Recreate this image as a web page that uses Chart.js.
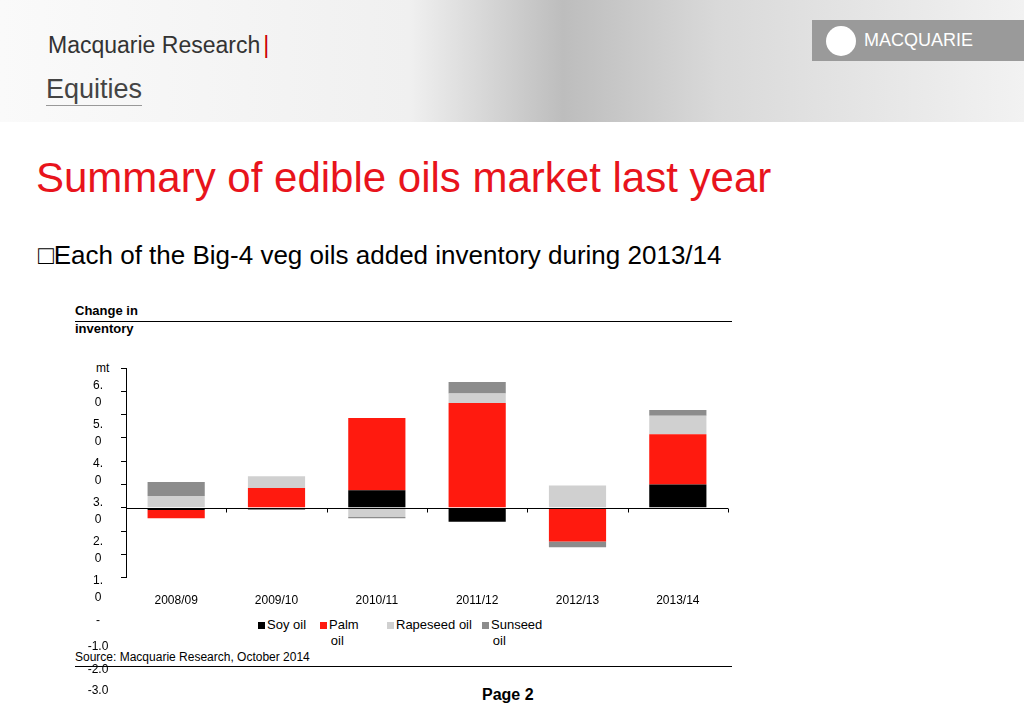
<!DOCTYPE html>
<html>
<head>
<meta charset="utf-8">
<script src="https://cdn.jsdelivr.net/npm/chart.js@4"></script>
<style>
  body { margin: 0; width: 1024px; height: 708px; position: relative; background: #fff; font-family: "Liberation Sans", Arial, sans-serif; overflow: hidden; }
  .abs { position: absolute; }
  .header { left: 0; top: 0; width: 1024px; height: 122px; background: linear-gradient(90deg, #fafafa 0%, #f0f0f0 40%, #bdbdbd 55%, #d9d9d9 70%, #f2f2f2 100%); }
  .ylab { position: absolute; font-size: 12px; color: #000; width: 40px; text-align: center; line-height: 17px; }
  .leg { position: absolute; font-size: 13px; line-height: 16px; }
  .sw { display: inline-block; width: 7px; height: 7px; margin-right: 2px; }
</style>
</head>
<body>
<div class="abs header"></div>
<div class="abs" style="left:48px;top:32px;font-size:23px;color:#333;">Macquarie Research<span style="color:#c00;margin-left:3px;">|</span></div>
<div class="abs" style="left:46px;top:74px;font-size:27px;color:#444;border-bottom:1px solid #999;">Equities</div>
<div class="abs" style="left:812px;top:20px;width:212px;height:41px;background:#9a9a9a;color:#fff;font-size:18px;line-height:41px;">
  <span style="display:inline-block;width:30px;height:30px;border-radius:50%;background:#fff;vertical-align:middle;margin:0 8px 0 14px;"></span>MACQUARIE</div>
<div class="abs" style="left:36px;top:154px;font-size:42px;color:#e8141c;">Summary of edible oils market last year</div>
<div class="abs" style="left:38px;top:240px;font-size:26px;color:#000;">&#9633;Each of the Big-4 veg oils added inventory during 2013/14</div>
<div class="abs" style="left:75px;top:302px;font-size:13px;font-weight:bold;line-height:18px;">Change in<br>inventory</div>
<div class="abs" style="left:75px;top:321px;width:657px;border-top:1px solid #000;"></div>
<div class="abs" style="left:96px;top:361px;font-size:12px;">mt</div>

<canvas id="grafico" class="abs" width="660" height="276" style="left:76px;top:340px;"></canvas>

<div class="abs" style="left:75px;top:650px;font-size:12px;">Source: Macquarie Research, October 2014</div>
<div class="abs" style="left:75px;top:666px;width:657px;border-top:1px solid #000;"></div>
<div class="abs" style="left:482px;top:686px;font-size:16px;font-weight:bold;">Page 2</div>

<div class="leg" style="left:258px;top:617px;"><span class="sw" style="background:#000"></span>Soy oil</div>
<div class="leg" style="left:320px;top:617px;"><span class="sw" style="background:#ff1a0f"></span>Palm<br>&nbsp;&nbsp;&nbsp;oil</div>
<div class="leg" style="left:387px;top:617px;"><span class="sw" style="background:#d0d0d0"></span>Rapeseed oil</div>
<div class="leg" style="left:482px;top:617px;"><span class="sw" style="background:#8c8c8c"></span>Sunseed<br>&nbsp;&nbsp;&nbsp;oil</div>

<script>
const categorias = ["2008/09", "2009/10", "2010/11", "2011/12", "2012/13", "2013/14"];
const soja = [-0.1, 0.0, 0.75, -0.6, 0.0, 1.0];
const palma = [-0.35, 0.85, 3.1, 4.5, -1.45, 2.15];
const colza = [0.5, 0.5, -0.4, 0.4, 0.95, 0.8];
const girassol = [0.6, -0.1, -0.05, 0.5, -0.25, 0.25];
// rotulos do eixo como aparecem quebrados no original
const rotulosY = [
  ["6.", "0"], ["5.", "0"], ["4.", "0"], ["3.", "0"], ["2.", "0"], ["1.", "0"], ["-"], ["-1.0"], ["-2.0"], ["-3.0"]
];
const posRotulosY = [377, 416, 455, 494, 533, 572, 612, 638, 661, 682];

rotulosY.forEach((r, i) => {
  const d = document.createElement("div");
  d.className = "ylab";
  d.style.left = "78px";
  d.style.top = posRotulosY[i] + "px";
  d.innerHTML = r.join("<br>");
  document.body.appendChild(d);
});

const linhaZero = {
  id: "linhaZero",
  afterDatasetsDraw(chart) {
    const { ctx, scales: { y }, chartArea } = chart;
    const y0 = Math.round(y.getPixelForValue(0)) + 0.5;
    ctx.save();
    ctx.strokeStyle = "#000";
    ctx.lineWidth = 1;
    ctx.beginPath();
    ctx.moveTo(chartArea.left, y0);
    ctx.lineTo(chartArea.right, y0);
    for (let i = 0; i <= categorias.length; i++) {
      const px = Math.round(chartArea.left + (chartArea.right - chartArea.left) * i / categorias.length) + 0.5;
      ctx.moveTo(px, y0);
      ctx.lineTo(px, y0 + 4);
    }
    ctx.stroke();
    ctx.restore();
  },
};

new Chart(document.getElementById("grafico"), {
  type: "bar",
  data: {
    labels: categorias,
    datasets: [
      { label: "Soy oil", data: soja, backgroundColor: "#000000" },
      { label: "Palm oil", data: palma, backgroundColor: "#ff1a0f" },
      { label: "Rapeseed oil", data: colza, backgroundColor: "#d0d0d0" },
      { label: "Sunseed oil", data: girassol, backgroundColor: "#8c8c8c" },
    ],
  },
  options: {
    responsive: false,
    animation: false,
    devicePixelRatio: 1,
    layout: { padding: { top: 28, right: 8, left: 0, bottom: 0 } },
    datasets: { bar: { categoryPercentage: 1, barPercentage: 0.57 } },
    plugins: { legend: { display: false }, tooltip: { enabled: false } },
    scales: {
      x: {
        stacked: true,
        grid: { display: false },
        border: { display: false },
        ticks: { color: "#000", font: { size: 12, family: "Liberation Sans" }, padding: 8, maxRotation: 0 },
      },
      y: {
        stacked: true,
        min: -3,
        max: 6,
        afterFit(scale) { scale.width = 50; },
        border: { color: "#000" },
        grid: { drawOnChartArea: false, color: "#000", tickLength: 5 },
        ticks: { stepSize: 1, callback: () => "", display: true },
      },
    },
  },
  plugins: [linhaZero],
});
</script>
</body>
</html>
